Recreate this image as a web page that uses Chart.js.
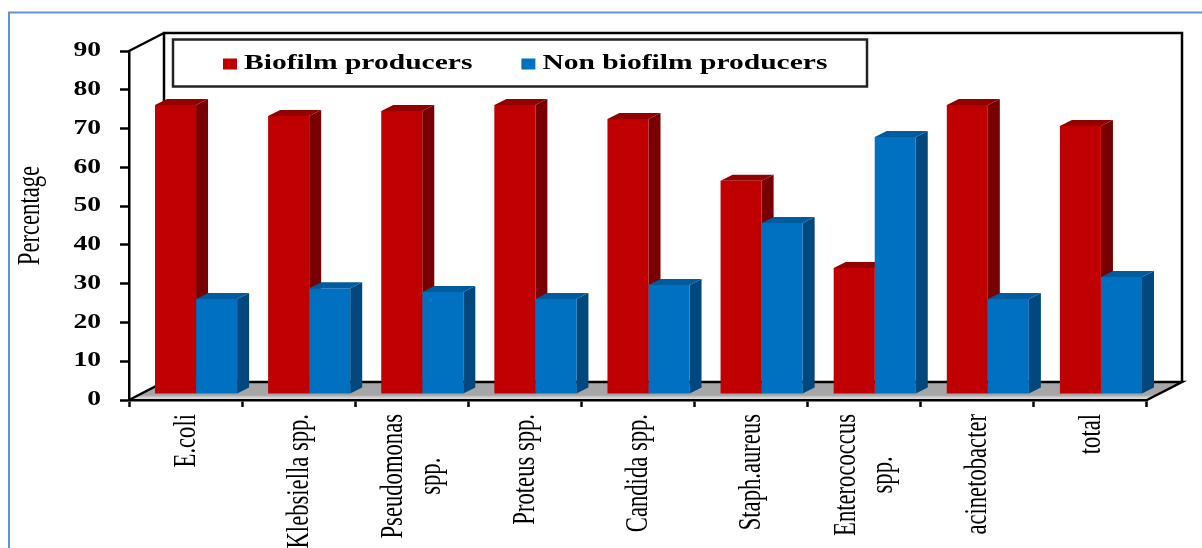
<!DOCTYPE html>
<html>
<head>
<meta charset="utf-8">
<style>
html,body{margin:0;padding:0;background:#fff;overflow:hidden}
#wrap{position:relative;width:1202px;height:548px}
</style>
<script src="https://cdn.jsdelivr.net/npm/chart.js@4/dist/chart.umd.min.js"></script>
</head>
<body>
<div id="wrap"><canvas id="chart" width="1202" height="548"></canvas></div>
<script>
const categories = [
  "E.coli", "Klebsiella spp.", ["Pseudomonas", "spp."], "Proteus spp.", "Candida spp.",
  "Staph.aureus", ["Enterococcus", "spp."], "acinetobacter", "total"
];
const biofilm = [74.5, 71.7, 73, 74.5, 70.9, 55, 32.5, 74.5, 69.1];
const nonBiofilm = [24.5, 27.3, 26.3, 24.5, 28.1, 44.1, 66.3, 24.5, 30.2];
const seriesNames = ["Biofilm producers", "Non biofilm producers"];
const yTicks = [0, 10, 20, 30, 40, 50, 60, 70, 80, 90];

const SERIF = "'Liberation Serif'";
const faces = [
  { front: "#c00000", side: "#780000", top: "#930000" },
  { front: "#0070c0", side: "#00487d", top: "#005c9f" }
];
// Depth of the 3D box and of each bar, plus the bars' inset from the front edge
const BOX_DX = 35, BOX_DY = 18, BAR_DX = 12, BAR_DY = 6, BAR_SHIFT_X = 10.5, BAR_SHIFT_Y = -6;
const X_LABEL_LINE = 37, X_LABEL_SX = 0.73;

// Lets text be drawn wider or narrower than the font's own proportions
function installTextStretch(ctx) {
  if (ctx.__stretch) return;
  ctx.__stretch = { x: 1, y: 1 };
  const fill = ctx.fillText.bind(ctx), measure = ctx.measureText.bind(ctx);
  ctx.fillText = function (t, x, y) {
    const s = ctx.__stretch;
    if (s.x === 1 && s.y === 1) return fill(t, x, y);
    ctx.save();
    ctx.translate(x, y);
    ctx.scale(s.x, s.y);
    fill(t, 0, 0);
    ctx.restore();
  };
  ctx.measureText = function (t) {
    const m = measure(t), s = ctx.__stretch;
    return s.x === 1 ? m : { width: m.width * s.x };
  };
}
function stretched(ctx, sx, sy, fn) {
  const prev = ctx.__stretch || { x: 1, y: 1 };
  ctx.__stretch = { x: sx, y: sy };
  fn();
  ctx.__stretch = prev;
}

const box3d = {
  id: "box3d",
  beforeLayout(chart) {
    installTextStretch(chart.ctx);
    const legend = chart.legend;
    if (legend && !legend.__patched) {
      legend.__patched = true;
      const fit = legend.fit.bind(legend), draw = legend.draw.bind(legend);
      legend.fit = function () {
        stretched(chart.ctx, 2.11, 1.5, fit);
        legend.height = 0;           // the legend floats over the plot
      };
      legend.draw = function () { stretched(chart.ctx, 2.11, 1.5, draw); };
    }
  },
  afterLayout(chart) {
    const l = chart.legend;
    l.left = 174; l.right = 920; l.top = 8; l.bottom = 86;
    l.width = l.right - l.left; l.height = l.bottom - l.top;
    l.adjustHitBoxes();
  },
  beforeDraw(chart) {
    const { ctx, chartArea: a, scales: { x, y } } = chart;
    if (!x.__patched) {
      x.__patched = y.__patched = true;
      const xl = x.drawLabels.bind(x), yl = y.drawLabels.bind(y), yt = y.drawTitle.bind(y);
      x.drawLabels = area => {
        // Two-line labels are centred on their category, with each line centred along the axis
        if (!x.__centred) {
          x.__centred = true;
          x.getLabelItems(area).forEach(item => {
            const multi = Array.isArray(item.label);
            const t = item.options.translation;
            let dy = 0;
            if (multi) {
              ctx.save();
              ctx.font = item.font.string;
              const widest = Math.max(...item.label.map(s => ctx.measureText(s).width));
              ctx.restore();
              dy = widest * X_LABEL_SX / 2;
              item.options.textAlign = "center";
            }
            item.options.translation = [t[0] + 1 - (multi ? (item.label.length - 1) * X_LABEL_LINE / 2 : 0), t[1] + dy];
          });
        }
        stretched(ctx, X_LABEL_SX, 1, () => xl(area));
      };
      y.drawLabels = area => stretched(ctx, 1.38, 1, () => yl(area));
      y.drawTitle = area => {
        ctx.save();
        ctx.translate(0, -10);
        stretched(ctx, X_LABEL_SX, 1, () => yt(area));
        ctx.restore();
      };
    }
    // Page frame
    ctx.save();
    ctx.strokeStyle = "#6391d2";
    ctx.lineWidth = 2;
    ctx.beginPath();
    ctx.moveTo(9, 548);
    ctx.lineTo(9, 12.5);
    ctx.lineTo(1202, 12.5);
    ctx.stroke();

    // Floor of the box
    const yb = y.getPixelForValue(0), yt0 = y.getPixelForValue(90);
    const grad = ctx.createLinearGradient(0, yb - BOX_DY, 0, yb);
    grad.addColorStop(0, "#a6a6a6");
    grad.addColorStop(0.72, "#a6a6a6");
    grad.addColorStop(0.9, "#dedede");
    grad.addColorStop(1, "#bbbbbb");
    ctx.fillStyle = grad;
    ctx.beginPath();
    ctx.moveTo(a.left, yb);
    ctx.lineTo(a.left + BOX_DX, yb - BOX_DY);
    ctx.lineTo(a.right + BOX_DX, yb - BOX_DY);
    ctx.lineTo(a.right, yb);
    ctx.closePath();
    ctx.fill();

    // Back and side walls
    ctx.strokeStyle = "#000";
    ctx.lineWidth = 2.5;
    ctx.lineJoin = "miter";
    ctx.beginPath();
    ctx.moveTo(a.left, yb);
    ctx.lineTo(a.left + BOX_DX, yb - BOX_DY);
    ctx.lineTo(a.right + BOX_DX, yb - BOX_DY);
    ctx.lineTo(a.right, yb);
    ctx.moveTo(a.left + BOX_DX, yb - BOX_DY);
    ctx.lineTo(a.left + BOX_DX, yt0 - BOX_DY);
    ctx.lineTo(a.right + BOX_DX, yt0 - BOX_DY);
    ctx.lineTo(a.right + BOX_DX, yb - BOX_DY);
    ctx.moveTo(a.left, yt0);
    ctx.lineTo(a.left + BOX_DX, yt0 - BOX_DY);
    ctx.stroke();

    // Legend frame
    ctx.fillStyle = "#fff";
    ctx.fillRect(173, 39.5, 694, 47);
    ctx.strokeStyle = "#222";
    ctx.strokeRect(173, 39.5, 694, 47);
    ctx.restore();
  },
  // Side and top faces go down first so each bar's front can cover its neighbour's side
  beforeDatasetsDraw(chart) {
    const ctx = chart.ctx;
    ctx.save();
    ctx.translate(BAR_SHIFT_X, BAR_SHIFT_Y);
    faces.forEach((f, i) => {
      chart.getDatasetMeta(i).data.forEach(b => {
        const w = b.width, l = b.x - w / 2, r = b.x + w / 2;
        ctx.fillStyle = f.side;
        ctx.beginPath();
        ctx.moveTo(r, b.y);
        ctx.lineTo(r + BAR_DX, b.y - BAR_DY);
        ctx.lineTo(r + BAR_DX, b.base - BAR_DY);
        ctx.lineTo(r, b.base);
        ctx.closePath();
        ctx.fill();
        ctx.fillStyle = f.top;
        ctx.beginPath();
        ctx.moveTo(l, b.y);
        ctx.lineTo(l + BAR_DX, b.y - BAR_DY);
        ctx.lineTo(r + BAR_DX, b.y - BAR_DY);
        ctx.lineTo(r, b.y);
        ctx.closePath();
        ctx.fill();
      });
    });
  },
  afterDatasetsDraw(chart) {
    chart.ctx.restore();
  }
};

new Chart(document.getElementById("chart"), {
  type: "bar",
  plugins: [box3d],
  data: {
    labels: categories,
    datasets: [
      { label: seriesNames[0], data: biofilm, backgroundColor: faces[0].front, clip: false },
      { label: seriesNames[1], data: nonBiofilm, backgroundColor: faces[1].front, clip: false }
    ]
  },
  options: {
    responsive: false,
    animation: false,
    layout: { padding: { left: 0, right: 55, top: 51, bottom: 0 } },
    datasets: { bar: { categoryPercentage: 0.7257, barPercentage: 1, borderWidth: 0 } },
    plugins: {
      tooltip: { enabled: false },
      legend: {
        position: "top",
        align: "start",
        labels: {
          boxWidth: 14, boxHeight: 11, padding: 49,
          color: "#000",
          font: { family: SERIF, weight: "bold", size: 14 }
        },
        onClick: null
      }
    },
    scales: {
      x: {
        afterFit(s) { s.height = 148; },
        border: { color: "#000", width: 2.5 },
        grid: { drawOnChartArea: false, tickColor: "#000", tickWidth: 2.5, tickLength: 7 },
        ticks: {
          autoSkip: false, minRotation: 90, maxRotation: 90, padding: 7, color: "#000",
          font: { family: SERIF, size: 31, lineHeight: 1.2 }
        }
      },
      y: {
        min: 0, max: 90,
        afterFit(s) { s.width = 129; },
        afterBuildTicks(s) { s.ticks = yTicks.map(v => ({ value: v })); },
        border: { color: "#000", width: 2.5 },
        grid: { drawOnChartArea: false, tickColor: "#000", tickWidth: 2.5, tickLength: 9 },
        ticks: {
          padding: 19, color: "#000",
          font: { family: SERIF, size: 20, weight: "bold" }
        },
        title: {
          display: true, text: "Percentage", color: "#000",
          padding: { top: 12, bottom: 0 },
          font: { family: SERIF, size: 31, lineHeight: 1.2 }
        }
      }
    }
  }
});
</script>
</body>
</html>
